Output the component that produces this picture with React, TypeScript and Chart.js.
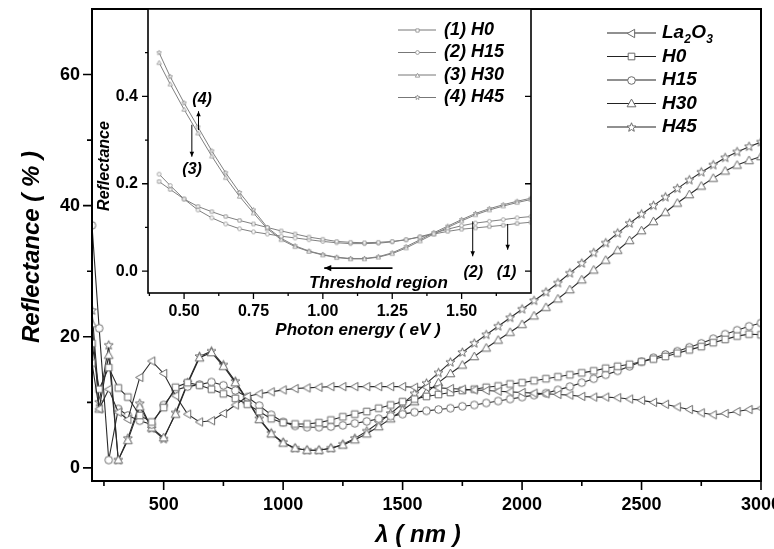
import React, { useEffect, useRef } from 'react';
import { Chart, registerables } from 'chart.js';
Chart.register(...registerables);

const FONT = "'Liberation Sans', Arial, Helvetica, sans-serif";

// ---------------- main chart data (wavelength in nm, reflectance in %) ----------------
const wavelengths = [200, 230, 270, 310, 350, 400, 450, 500, 550, 600, 650, 700, 750, 800, 850, 900, 950, 1000,
  1050, 1100, 1150, 1200, 1250, 1300, 1350, 1400, 1450, 1500, 1550, 1600, 1650, 1700, 1750, 1800, 1850, 1900,
  1950, 2000, 2050, 2100, 2150, 2200, 2250, 2300, 2350, 2400, 2450, 2500, 2550, 2600, 2650, 2700, 2750, 2800,
  2850, 2900, 2950, 3000];

const la2o3 = [16, 9, 12, 8.5, 7.4, 13.8, 16.3, 14.4, 11.0, 8.2, 7.0, 7.2, 8.3, 9.6, 10.9, 11.3, 11.6, 11.9,
  12.1, 12.2, 12.3, 12.4, 12.4, 12.4, 12.4, 12.4, 12.4, 12.4, 12.3, 12.3, 12.2, 12.1, 12.0, 11.9, 11.8, 11.7,
  11.6, 11.5, 11.4, 11.3, 11.2, 11.1, 10.9, 10.8, 10.8, 10.7, 10.5, 10.3, 10.0, 9.7, 9.3, 8.9, 8.4, 8.1,
  8.3, 8.6, 8.9, 9.1];

const h0 = [19, 12, 15.3, 12.2, 10.8, 8.0, 7.0, 9.2, 12.3, 13.0, 12.6, 12.0, 11.3, 10.6, 9.7, 8.6, 7.5, 6.9,
  6.7, 6.7, 6.9, 7.3, 7.8, 8.2, 8.6, 9.1, 9.6, 10.1, 10.5, 10.9, 11.2, 11.5, 11.8, 12.0, 12.3, 12.5,
  12.8, 13.0, 13.3, 13.6, 13.9, 14.2, 14.5, 14.8, 15.2, 15.5, 15.8, 16.2, 16.6, 17.0, 17.5, 18.0, 18.5, 19.1,
  19.6, 20.1, 20.4, 20.3];

const h15 = [37, 21.3, 1.2, 9.0, 8.0, 7.2, 6.6, 9.6, 11.9, 12.4, 12.7, 13.1, 12.6, 11.8, 10.8, 9.5, 8.1, 7.0,
  6.4, 6.2, 6.2, 6.3, 6.5, 6.8, 7.1, 7.5, 7.9, 8.2, 8.5, 8.7, 8.9, 9.1, 9.4, 9.6, 9.9, 10.2,
  10.5, 10.8, 11.1, 11.4, 11.9, 12.4, 13.0, 13.6, 14.2, 14.8, 15.5, 16.2, 16.8, 17.3, 17.8, 18.4, 19.0, 19.7,
  20.4, 21.0, 21.6, 22.1];

const h30 = [22, 9, 17.2, 1.2, 4.2, 9.3, 6.1, 4.6, 8.2, 12.8, 16.8, 17.6, 15.5, 13.0, 10.3, 7.4, 5.2, 3.8,
  3.0, 2.7, 2.7, 3.0, 3.5, 4.3, 5.2, 6.3, 7.5, 8.8, 10.1, 11.5, 13.0, 14.4, 15.7, 17.0, 18.3, 19.5,
  20.7, 21.9, 23.2, 24.5, 25.8, 27.2, 28.7, 30.2, 31.7, 33.2, 34.7, 36.2, 37.6, 39.0, 40.4, 41.7, 43.0, 44.2,
  45.3, 46.2, 46.9, 47.5];

const h45 = [24, 10, 18.7, 1.2, 4.5, 9.8, 6.0, 4.4, 8.4, 13.0, 17.0, 17.8, 15.7, 13.2, 10.4, 7.5, 5.3, 3.9,
  3.0, 2.7, 2.7, 3.0, 3.6, 4.5, 5.6, 6.9, 8.3, 9.8, 11.3, 12.9, 14.5, 16.1, 17.6, 19.0, 20.3, 21.6,
  22.9, 24.2, 25.5, 26.8, 28.2, 29.7, 31.2, 32.8, 34.3, 35.8, 37.3, 38.7, 40.0, 41.3, 42.6, 43.9, 45.1, 46.2,
  47.3, 48.2, 49.0, 49.7];

const mainXTicks = [500, 1000, 1500, 2000, 2500, 3000];
const mainXMinor = [250, 750, 1250, 1750, 2250, 2750];
const mainYTicks = [0, 20, 40, 60];
const mainYMinor = [10, 30, 50];

// ---------------- inset data (photon energy in eV, reflectance fraction) ----------------
const photonEnergy = [0.41, 0.45, 0.50, 0.55, 0.60, 0.65, 0.70, 0.75, 0.80, 0.85, 0.90, 0.95, 1.00, 1.05,
  1.10, 1.15, 1.20, 1.25, 1.30, 1.35, 1.40, 1.45, 1.50, 1.55, 1.60, 1.65, 1.70, 1.75];
const insetH0 = [0.205, 0.187, 0.165, 0.148, 0.136, 0.125, 0.116, 0.108, 0.100, 0.092, 0.085, 0.078, 0.073, 0.068,
  0.066, 0.065, 0.066, 0.068, 0.072, 0.078, 0.085, 0.091, 0.096, 0.099, 0.102, 0.105, 0.109, 0.112];
const insetH15 = [0.222, 0.196, 0.165, 0.140, 0.122, 0.108, 0.097, 0.090, 0.085, 0.080, 0.076, 0.072, 0.068, 0.065,
  0.063, 0.063, 0.064, 0.067, 0.072, 0.079, 0.087, 0.096, 0.104, 0.110, 0.114, 0.118, 0.122, 0.125];
const insetH30 = [0.477, 0.428, 0.370, 0.316, 0.263, 0.214, 0.171, 0.133, 0.097, 0.072, 0.056, 0.045, 0.037, 0.031,
  0.028, 0.028, 0.032, 0.040, 0.053, 0.069, 0.085, 0.100, 0.115, 0.129, 0.140, 0.149, 0.157, 0.164];
const insetH45 = [0.500, 0.445, 0.385, 0.330, 0.275, 0.225, 0.180, 0.140, 0.100, 0.075, 0.058, 0.046, 0.038, 0.032,
  0.029, 0.029, 0.033, 0.042, 0.056, 0.072, 0.088, 0.103, 0.118, 0.132, 0.143, 0.152, 0.160, 0.167];

const insetXTicks = [0.5, 0.75, 1.0, 1.25, 1.5];
const insetXMinor = [0.375, 0.625, 0.875, 1.125, 1.375, 1.625];
const insetYTicks = [0, 0.2, 0.4];
const insetYMinor = [0.1, 0.3, 0.5];

const mainLabels = ['La2O3', 'H0', 'H15', 'H30', 'H45'];
const insetLabels = ['(1) H0', '(2) H15', '(3) H30', '(4) H45'];

function makeMarker(kind: string, s: number, color: string, lw: number): HTMLCanvasElement {
  const c = document.createElement('canvas');
  const d = Math.ceil(s * 2 + 4) | 1;
  c.width = d; c.height = d;
  const g = c.getContext('2d')!;
  g.translate(d / 2, d / 2);
  g.strokeStyle = color; g.fillStyle = '#ffffff'; g.lineWidth = lw;
  g.beginPath();
  if (kind === 'square') {
    g.rect(-s * 0.85, -s * 0.85, s * 1.7, s * 1.7);
  } else if (kind === 'circle') {
    g.arc(0, 0, s * 0.95, 0, Math.PI * 2);
  } else if (kind === 'tri') {
    g.moveTo(0, -s); g.lineTo(s, s * 0.75); g.lineTo(-s, s * 0.75); g.closePath();
  } else if (kind === 'triLeft') {
    g.moveTo(-s, 0); g.lineTo(s * 0.75, -s); g.lineTo(s * 0.75, s); g.closePath();
  } else {
    for (let i = 0; i < 10; i++) {
      const r = i % 2 === 0 ? s * 1.05 : s * 0.45;
      const a = -Math.PI / 2 + (i * Math.PI) / 5;
      const px = Math.cos(a) * r, py = Math.sin(a) * r;
      if (i === 0) g.moveTo(px, py); else g.lineTo(px, py);
    }
    g.closePath();
  }
  g.fill(); g.stroke();
  return c;
}

function arrow(ctx: CanvasRenderingContext2D, x1: number, y1: number, x2: number, y2: number, head: number) {
  ctx.beginPath(); ctx.moveTo(x1, y1); ctx.lineTo(x2, y2); ctx.stroke();
  const a = Math.atan2(y2 - y1, x2 - x1);
  ctx.beginPath();
  ctx.moveTo(x2, y2);
  ctx.lineTo(x2 - head * Math.cos(a) + head * 0.45 * Math.sin(a), y2 - head * Math.sin(a) - head * 0.45 * Math.cos(a));
  ctx.lineTo(x2 - head * Math.cos(a) - head * 0.45 * Math.sin(a), y2 - head * Math.sin(a) + head * 0.45 * Math.cos(a));
  ctx.closePath(); ctx.fill();
}

export default function App() {
  const mainRef = useRef<HTMLCanvasElement>(null);
  const insetRef = useRef<HTMLCanvasElement>(null);

  useEffect(() => {
    const mGray = '#6a6a6a';
    const mainMarkers = [
      makeMarker('triLeft', 4.2, mGray, 1),
      makeMarker('square', 3.9, mGray, 1),
      makeMarker('circle', 4.0, mGray, 1),
      makeMarker('tri', 4.4, mGray, 1),
      makeMarker('star', 4.5, mGray, 1),
    ];
    const iGray = '#8a8a8a';
    const insetMarkers = [
      makeMarker('square', 1.9, iGray, 0.8),
      makeMarker('circle', 2.0, iGray, 0.8),
      makeMarker('tri', 2.2, iGray, 0.8),
      makeMarker('star', 2.4, iGray, 0.8),
    ];
    const mainSeries = [la2o3, h0, h15, h30, h45];
    const insetSeries = [insetH0, insetH15, insetH30, insetH45];

    const tickFont = (size: number) => ({ family: FONT, size, weight: 'bold' as const });

    const mainDeco = {
      id: 'mainDeco',
      afterDraw(chart: any) {
        const ctx: CanvasRenderingContext2D = chart.ctx;
        const a = chart.chartArea;
        const xs = chart.scales.x, ys = chart.scales.y;
        ctx.save();
        ctx.strokeStyle = '#000'; ctx.fillStyle = '#000';
        ctx.lineWidth = 2;
        ctx.strokeRect(a.left, a.top, a.right - a.left, a.bottom - a.top);
        ctx.lineWidth = 1.6;
        ctx.beginPath();
        mainXTicks.forEach(v => { const p = xs.getPixelForValue(v); ctx.moveTo(p, a.bottom); ctx.lineTo(p, a.bottom + 9); });
        mainXMinor.forEach(v => { const p = xs.getPixelForValue(v); ctx.moveTo(p, a.bottom); ctx.lineTo(p, a.bottom + 5); });
        mainYTicks.forEach(v => { const p = ys.getPixelForValue(v); ctx.moveTo(a.left, p); ctx.lineTo(a.left - 9, p); });
        mainYMinor.forEach(v => { const p = ys.getPixelForValue(v); ctx.moveTo(a.left, p); ctx.lineTo(a.left - 5, p); });
        ctx.stroke();

        ctx.font = `italic bold 24px ${FONT}`;
        ctx.textAlign = 'center'; ctx.textBaseline = 'middle';
        ctx.fillText('\u03bb ( nm )', 418, 535);
        ctx.save();
        ctx.translate(32, 247); ctx.rotate(-Math.PI / 2);
        ctx.fillText('Reflectance ( % )', 0, 0);
        ctx.restore();

        // legend
        ctx.textAlign = 'left';
        for (let i = 0; i < mainLabels.length; i++) {
          const y = 33 + i * 23.5;
          ctx.strokeStyle = '#222'; ctx.lineWidth = 1.2;
          ctx.beginPath(); ctx.moveTo(607, y); ctx.lineTo(656, y); ctx.stroke();
          const m = mainMarkers[i];
          ctx.drawImage(m, Math.round(631 - m.width / 2), Math.round(y - m.height / 2));
          ctx.fillStyle = '#000';
          if (mainLabels[i] === 'La2O3') {
            let x = 662;
            const big = `italic bold 19px ${FONT}`, small = `italic bold 12px ${FONT}`;
            const parts: [string, boolean][] = [['La', false], ['2', true], ['O', false], ['3', true]];
            parts.forEach(([t, sub]) => {
              ctx.font = sub ? small : big;
              ctx.fillText(t, x, sub ? y + 7 : y);
              x += ctx.measureText(t).width + (sub ? 0.5 : 0);
            });
          } else {
            ctx.font = `italic bold 19px ${FONT}`;
            ctx.fillText(mainLabels[i], 662, y);
          }
        }
        ctx.restore();
      },
    };

    const main = new Chart(mainRef.current!, {
      type: 'line',
      data: {
        datasets: mainSeries.map((arr, i) => ({
          label: mainLabels[i],
          data: wavelengths.map((w, k) => ({ x: w, y: arr[k] })),
          borderColor: '#2a2a2a',
          borderWidth: 1.1,
          pointStyle: mainMarkers[i] as any,
          pointRadius: 4,
          pointHitRadius: 0,
          tension: 0,
          fill: false,
        })),
      },
      options: {
        responsive: false,
        animation: false,
        events: [],
        layout: { padding: { top: 9, right: 13, left: 0, bottom: 0 } },
        plugins: { legend: { display: false }, tooltip: { enabled: false } },
        scales: {
          x: {
            type: 'linear', min: 200, max: 3000,
            grid: { display: false, drawTicks: false }, border: { display: false },
            ticks: { font: tickFont(18), color: '#000', padding: 13, maxRotation: 0, autoSkip: false,
              callback: (v: any) => String(v) },
            afterBuildTicks: (s: any) => { s.ticks = mainXTicks.map(v => ({ value: v })); },
            afterFit: (s: any) => { s.height = 68; s.paddingLeft = 0; s.paddingRight = 0; },
          },
          y: {
            type: 'linear', min: -2, max: 70,
            grid: { display: false, drawTicks: false }, border: { display: false },
            ticks: { font: tickFont(18), color: '#000', padding: 12, callback: (v: any) => String(v) },
            afterBuildTicks: (s: any) => { s.ticks = mainYTicks.map(v => ({ value: v })); },
            afterFit: (s: any) => { s.width = 92; s.paddingTop = 0; s.paddingBottom = 0; },
          },
        },
      },
      plugins: [mainDeco],
    } as any);

    const insetDeco = {
      id: 'insetDeco',
      beforeDraw(chart: any) {
        const ctx: CanvasRenderingContext2D = chart.ctx;
        const a = chart.chartArea;
        ctx.save(); ctx.fillStyle = '#fff';
        ctx.fillRect(a.left, a.top, a.right - a.left, a.bottom - a.top);
        ctx.restore();
      },
      afterDraw(chart: any) {
        const ctx: CanvasRenderingContext2D = chart.ctx;
        const a = chart.chartArea;
        const xs = chart.scales.x, ys = chart.scales.y;
        const X = (v: number) => xs.getPixelForValue(v);
        const Y = (v: number) => ys.getPixelForValue(v);
        ctx.save();
        ctx.strokeStyle = '#000'; ctx.fillStyle = '#000';
        ctx.lineWidth = 1.6;
        ctx.strokeRect(a.left, a.top, a.right - a.left, a.bottom - a.top);
        ctx.lineWidth = 1.3;
        ctx.beginPath();
        insetXTicks.forEach(v => { ctx.moveTo(X(v), a.bottom); ctx.lineTo(X(v), a.bottom + 6); });
        insetXMinor.forEach(v => { ctx.moveTo(X(v), a.bottom); ctx.lineTo(X(v), a.bottom + 3); });
        insetYTicks.forEach(v => {
          ctx.moveTo(a.left, Y(v)); ctx.lineTo(a.left - 6, Y(v));
          ctx.moveTo(a.right, Y(v)); ctx.lineTo(a.right - 6, Y(v));
        });
        insetYMinor.forEach(v => { ctx.moveTo(a.left, Y(v)); ctx.lineTo(a.left - 3, Y(v)); });
        ctx.stroke();

        ctx.textAlign = 'center'; ctx.textBaseline = 'middle';
        ctx.font = `italic bold 17px ${FONT}`;
        ctx.fillText('Photon energy ( eV )', 358, 330);
        ctx.fillText('Threshold region', X(1.2), Y(-0.027));
        ctx.save();
        ctx.font = `italic bold 16px ${FONT}`;
        ctx.translate(105, 166); ctx.rotate(-Math.PI / 2);
        ctx.fillText('Reflectance', 0, 0);
        ctx.restore();

        // annotations
        ctx.font = `italic bold 16px ${FONT}`;
        ctx.fillText('(4)', X(0.565), Y(0.392));
        ctx.fillText('(3)', X(0.529), Y(0.232));
        ctx.fillText('(2)', X(1.542), Y(-0.004));
        ctx.fillText('(1)', X(1.662), Y(-0.004));
        ctx.lineWidth = 1;
        arrow(ctx, X(0.552), Y(0.323), X(0.552), Y(0.366), 5);
        arrow(ctx, X(0.528), Y(0.335), X(0.528), Y(0.262), 5);
        arrow(ctx, X(1.54), Y(0.114), X(1.54), Y(0.034), 5);
        arrow(ctx, X(1.666), Y(0.108), X(1.666), Y(0.049), 5);
        ctx.lineWidth = 1.6;
        arrow(ctx, X(1.251), Y(0.007), X(1.005), Y(0.007), 7);

        // legend
        ctx.textAlign = 'left';
        for (let i = 0; i < insetLabels.length; i++) {
          const y = 30 + i * 22.5;
          ctx.strokeStyle = '#777'; ctx.lineWidth = 1;
          ctx.beginPath(); ctx.moveTo(398, y); ctx.lineTo(436, y); ctx.stroke();
          const m = insetMarkers[i];
          ctx.drawImage(m, Math.round(417 - m.width / 2), Math.round(y - m.height / 2));
          ctx.fillStyle = '#000';
          ctx.font = `italic bold 18px ${FONT}`;
          ctx.fillText(insetLabels[i], 444, y);
        }
        ctx.restore();
      },
    };

    const inset = new Chart(insetRef.current!, {
      type: 'line',
      data: {
        datasets: insetSeries.map((arr, i) => ({
          label: insetLabels[i],
          data: photonEnergy.map((e, k) => ({ x: e, y: arr[k] })),
          borderColor: '#808080',
          borderWidth: 1,
          pointStyle: insetMarkers[i] as any,
          pointRadius: 2,
          pointHitRadius: 0,
          tension: 0,
          fill: false,
        })),
      },
      options: {
        responsive: false,
        animation: false,
        events: [],
        layout: { padding: { top: 9, right: 243, left: 0, bottom: 200 } },
        plugins: { legend: { display: false }, tooltip: { enabled: false } },
        scales: {
          x: {
            type: 'linear', min: 0.37, max: 1.75,
            grid: { display: false, drawTicks: false }, border: { display: false },
            ticks: { font: tickFont(16), color: '#000', padding: 9, maxRotation: 0, autoSkip: false,
              callback: (v: any) => Number(v).toFixed(2) },
            afterBuildTicks: (s: any) => { s.ticks = insetXTicks.map(v => ({ value: v })); },
            afterFit: (s: any) => { s.height = 56; s.paddingLeft = 0; s.paddingRight = 0; },
          },
          y: {
            type: 'linear', min: -0.05, max: 0.6,
            grid: { display: false, drawTicks: false }, border: { display: false },
            ticks: { font: tickFont(16), color: '#000', padding: 10,
              callback: (v: any) => Number(v).toFixed(1) },
            afterBuildTicks: (s: any) => { s.ticks = insetYTicks.map(v => ({ value: v })); },
            afterFit: (s: any) => { s.width = 148; s.paddingTop = 0; s.paddingBottom = 0; },
          },
        },
      },
      plugins: [insetDeco],
    } as any);

    return () => { main.destroy(); inset.destroy(); };
  }, []);

  return (
    <div style={{ position: 'fixed', left: 0, top: 0, width: 774, height: 549, background: '#fff' }}>
      <canvas ref={mainRef} width={774} height={549} style={{ position: 'absolute', left: 0, top: 0 }} />
      <canvas ref={insetRef} width={774} height={549} style={{ position: 'absolute', left: 0, top: 0, pointerEvents: 'none' }} />
    </div>
  );
}
